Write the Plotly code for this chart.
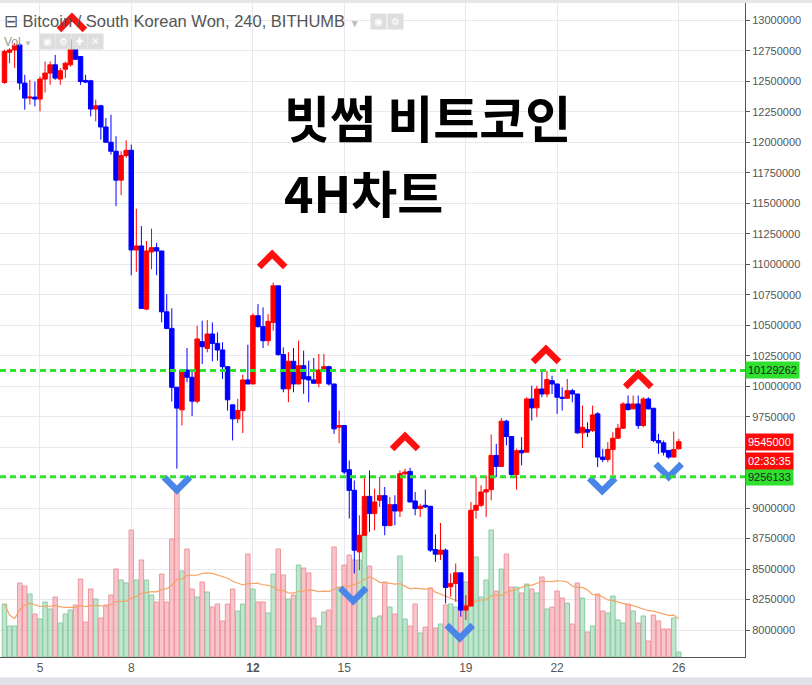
import pandas as pd
import plotly.graph_objects as go

# BTC / KRW, Bithumb, 4h candles (prices in thousand KRW)
bar_start = "2018-03-03 20:00"

opens = [12491, 12739, 12758, 12799, 12486, 12363, 12371, 12355, 12519, 12568,
         12636, 12519, 12600, 12636, 12840, 12704, 12508, 12505, 12273, 12300,
         12126, 12001, 11927, 11690, 11892, 11935, 11117, 11150, 10632, 11101,
         11136, 11109, 10610, 10474, 9991, 9806, 10133, 10073, 9877, 10365,
         10310, 10428, 10351, 10297, 10160, 9847, 9732, 9800, 10051, 10018,
         10578, 10488, 10373, 10523, 10823, 10259, 9978, 10204, 10018, 10168,
         10078, 10051, 10024, 10133, 10160, 10018, 9664, 9677, 9315, 9146,
         8641, 8777, 9096, 8955, 9064, 9102, 8856, 9028, 8976, 9282,
         9301, 9058, 8996, 9023, 9015, 8660, 8622, 8655, 8355, 8382,
         8469, 8163, 8196, 8982, 9023, 9132, 9151, 9432, 9342, 9713,
         9587, 9276, 9473, 9459, 9895, 9822, 9977, 9936, 10045, 10018,
         9909, 9901, 9963, 9936, 9617, 9644, 9636, 9773, 9418, 9399,
         9481, 9573, 9655, 9854, 9814, 9854, 9677, 9895, 9819, 9554,
         9535, 9473, 9418, 9486]
highs = [12760, 12772, 12813, 12813, 12554, 12513, 12499, 12540, 12663, 12663,
         12717, 12609, 12663, 12840, 12868, 12704, 12554, 12513, 12350, 12309,
         12200, 12227, 12050, 11927, 12017, 11982, 11455, 11314, 11191, 11292,
         11177, 11109, 10755, 10638, 9991, 10133, 10313, 10128, 10496, 10537,
         10542, 10523, 10441, 10360, 10160, 9847, 9896, 10095, 10340, 10597,
         10673, 10646, 10591, 10850, 10823, 10318, 10278, 10313, 10373, 10291,
         10209, 10231, 10264, 10264, 10168, 10018, 9800, 9677, 9390, 9227,
         8941, 9255, 9309, 9159, 9255, 9173, 9091, 9105, 9309, 9323,
         9331, 9132, 9036, 9151, 9015, 8785, 8878, 8668, 8464, 8545,
         8469, 8286, 9050, 9255, 9187, 9268, 9604, 9527, 9740, 9724,
         9587, 9487, 9582, 9909, 10004, 10004, 10141, 10127, 10086, 10018,
         9991, 10059, 9977, 9936, 9841, 9704, 9841, 9786, 9486, 9541,
         9623, 9691, 9868, 9923, 9923, 9923, 9909, 9909, 9819, 9609,
         9554, 9473, 9628, 9568]
lows = [12480, 12649, 12609, 12431, 12268, 12309, 12295, 12254, 12409, 12472,
        12513, 12472, 12527, 12622, 12677, 12472, 12486, 12213, 12172, 12022,
        11995, 11900, 11477, 11567, 11873, 10910, 10937, 10638, 10624, 10959,
        10910, 10523, 10468, 9874, 9324, 9677, 10032, 9754, 9860, 10182,
        10278, 10204, 10209, 10059, 9800, 9555, 9697, 9615, 10018, 10018,
        10482, 10313, 10332, 10455, 10250, 9950, 9868, 9950, 10018, 9937,
        9868, 10024, 9991, 10128, 10005, 9609, 9533, 9277, 8914, 8464,
        8491, 8777, 8805, 8818, 9009, 8777, 8856, 8859, 8927, 9268,
        9050, 8941, 8927, 9001, 8641, 8559, 8573, 8218, 8273, 8232,
        8109, 8082, 8196, 8914, 9009, 8927, 9064, 9255, 9337, 9514,
        9255, 9150, 9350, 9459, 9718, 9745, 9909, 9909, 9936, 9773,
        9800, 9895, 9868, 9609, 9492, 9582, 9623, 9336, 9377, 9377,
        9268, 9568, 9650, 9800, 9808, 9650, 9663, 9808, 9541, 9445,
        9432, 9404, 9418, 9481]
closes = [12745, 12758, 12794, 12486, 12363, 12371, 12355, 12519, 12568, 12636,
          12527, 12587, 12649, 12840, 12682, 12499, 12494, 12273, 12300, 12126,
          12001, 11927, 11690, 11892, 11935, 11117, 11150, 10638, 11109, 11136,
          11109, 10610, 10474, 9991, 9820, 10133, 10073, 9877, 10387, 10324,
          10428, 10351, 10297, 10160, 9888, 9732, 9800, 10051, 10018, 10578,
          10488, 10373, 10531, 10823, 10259, 9978, 10204, 10018, 10168, 10059,
          10051, 10024, 10133, 10160, 10018, 9650, 9677, 9296, 9145, 8655,
          8777, 9096, 8955, 9050, 9102, 8856, 9028, 8976, 9282, 9296,
          9050, 8996, 9015, 9009, 8655, 8622, 8655, 8349, 8382, 8469,
          8163, 8196, 8982, 9023, 9132, 9151, 9432, 9342, 9713, 9587,
          9276, 9470, 9453, 9895, 9822, 9977, 9936, 10054, 10018, 9909,
          9901, 9963, 9936, 9617, 9663, 9623, 9764, 9418, 9399, 9481,
          9573, 9655, 9854, 9808, 9854, 9677, 9895, 9814, 9554, 9535,
          9459, 9418, 9481, 9545]
volumes = [53, 31, 31, 74, 71, 63, 43, 38, 55, 48,
           60, 34, 43, 47, 52, 78, 35, 68, 58, 39,
           52, 62, 88, 77, 74, 127, 77, 97, 77, 62,
           55, 83, 55, 118, 170, 86, 108, 68, 60, 75,
           65, 50, 53, 36, 53, 68, 46, 53, 103, 68,
           55, 55, 44, 83, 108, 82, 58, 62, 92, 89,
           84, 39, 31, 45, 47, 110, 70, 92, 102, 97,
           97, 125, 91, 39, 41, 75, 50, 43, 101, 38,
           31, 53, 24, 30, 69, 29, 33, 52, 53, 50,
           62, 75, 112, 100, 60, 77, 127, 66, 88, 103,
           70, 70, 64, 73, 68, 64, 80, 48, 50, 66,
           59, 54, 33, 74, 59, 25, 31, 63, 46, 44,
           61, 37, 34, 53, 46, 34, 41, 16, 42, 36,
           28, 28, 39, 5]

date_ticks = ["2018-03-05", "2018-03-08", "2018-03-12", "2018-03-15",
              "2018-03-19", "2018-03-22", "2018-03-26"]
date_labels = ["5", "8", "<b>12</b>", "15", "19", "22", "26"]
price_ticks = list(range(8000000, 13000001, 250000))

resistance = 10129262
support = 9256133
last_price = 9545000
countdown = "02:33:35"

# hand drawn marks: bar offset from bar_start and price of the tip
top_marks_bar = [13.3, 52.8, 79.0, 106.8, 125.0]
top_marks_price = [13028000, 11084000, 9591000, 10305000, 10100000]
bottom_marks_bar = [34.0, 68.8, 89.8, 117.9, 131.0]
bottom_marks_price = [9148000, 8238000, 7934000, 9140000, 9255000]

t0 = pd.Timestamp(bar_start)
step = pd.Timedelta(hours=4)
times = pd.date_range(bar_start, periods=len(closes), freq="4h")
o = [v * 1000 for v in opens]
h = [v * 1000 for v in highs]
l = [v * 1000 for v in lows]
c = [v * 1000 for v in closes]

up = [cc >= oo for oo, cc in zip(o, c)]
vol_fill = ["rgba(140,210,170,0.55)" if u else "rgba(245,140,150,0.5)" for u in up]
vol_edge = ["#8ccaa3" if u else "#ec97a0" for u in up]
vol_ma = pd.Series(volumes).rolling(20, min_periods=1).mean()

# price labels hidden behind the coloured boxes on the scale
hidden = {9500000, 9250000}
price_labels = ["" if v in hidden else str(v) for v in price_ticks]


def chevrons(bars, prices, direction):
    # direction 1 = "^", -1 = "v"
    xs, ys = [], []
    arm_x = step * 2.56
    arm_y = 106000 * direction
    for b, p in zip(bars, prices):
        t = t0 + step * b
        xs += [t - arm_x, t, t + arm_x, None]
        ys += [p - arm_y, p, p - arm_y, None]
    return xs, ys


fig = go.Figure()
fig.add_trace(go.Bar(x=times, y=volumes, yaxis="y",
                     marker=dict(color=vol_fill, line=dict(color=vol_edge, width=1)),
                     hoverinfo="skip"))
fig.add_trace(go.Scatter(x=times, y=vol_ma, yaxis="y", mode="lines",
                         line=dict(color="#f5a468", width=1.2), hoverinfo="skip"))
fig.add_trace(go.Candlestick(x=times, open=o, high=h, low=l, close=c, yaxis="y2",
                             whiskerwidth=0,
                             increasing=dict(line=dict(color="#ff0000", width=1), fillcolor="#ff0000"),
                             decreasing=dict(line=dict(color="#0000ff", width=1), fillcolor="#0000ff")))

tx, ty = chevrons(top_marks_bar, top_marks_price, 1)
fig.add_trace(go.Scatter(x=tx, y=ty, yaxis="y2", mode="lines",
                         line=dict(color="#ff1010", width=6.5), hoverinfo="skip"))
bx, by = chevrons(bottom_marks_bar, bottom_marks_price, -1)
fig.add_trace(go.Scatter(x=bx, y=by, yaxis="y2", mode="lines",
                         line=dict(color="#4a86e8", width=6.5), hoverinfo="skip"))

green = "#2fe02f"
for lvl in [resistance, support]:
    fig.add_shape(type="line", xref="paper", x0=0, x1=1, yref="y2", y0=lvl, y1=lvl,
                  line=dict(color=green, width=3, dash="6px,4px"), layer="above")

# grey strips at the top and the bottom of the widget
fig.add_shape(type="rect", xref="paper", yref="paper", x0=0, x1=1.1, y0=-0.031, y1=-0.05,
              fillcolor="#e2e3e8", line_width=0)
fig.add_shape(type="rect", xref="paper", yref="paper", x0=0, x1=1.1, y0=1.0, y1=1.006,
              fillcolor="#e6e6e6", line_width=0)

ann = []
box_font = dict(family="Arial, Liberation Sans", size=11)
ann.append(dict(xref="paper", yref="y2", x=1, y=resistance, xanchor="left", yanchor="middle",
                text=f"{resistance}", showarrow=False, bgcolor=green, borderpad=2,
                font=dict(box_font, color="#222")))
ann.append(dict(xref="paper", yref="y2", x=1, y=support, xanchor="left", yanchor="middle",
                text=f"{support}", showarrow=False, bgcolor=green, borderpad=2,
                font=dict(box_font, color="#222")))
ann.append(dict(xref="paper", yref="y2", x=1, y=last_price, xanchor="left", yanchor="middle",
                text=f"{last_price}", showarrow=False, bgcolor="#ff0a0a", borderpad=2,
                font=dict(box_font, color="white")))
ann.append(dict(xref="paper", yref="y2", x=1, y=last_price, xanchor="left", yanchor="middle",
                yshift=-19, text=countdown, showarrow=False, bgcolor="#ff0a0a", borderpad=2,
                font=dict(box_font, color="white")))

ann.append(dict(xref="paper", yref="paper", x=0.003, y=1 - 18 / 654, xanchor="left",
                yanchor="middle", showarrow=False,
                text="⊟ Bitcoin / South Korean Won, 240, BITHUMB <span style='color:#bbb;font-size:10px'>▼</span>",
                font=dict(family="Arial, Liberation Sans", size=16.5, color="#555")))
ann.append(dict(xref="paper", yref="paper", x=0.003, y=1 - 39 / 654, xanchor="left",
                yanchor="middle", showarrow=False,
                text="Vol <span style='color:#bbb;font-size:8px'>▼</span>",
                font=dict(family="Arial, Liberation Sans", size=12, color="#999")))
for i, sym in enumerate(["◉", "⚙", "✚", "✕"]):
    ann.append(dict(xref="paper", yref="paper", x=(47 + 16 * i) / 745, y=1 - 39 / 654,
                    xanchor="center", yanchor="middle", showarrow=False, text=sym,
                    bgcolor="#dedede", width=13, height=13,
                    font=dict(family="DejaVu Sans", size=10, color="white")))
for i, sym in enumerate(["◉", "⚙"]):
    ann.append(dict(xref="paper", yref="paper", x=(379 + 16 * i) / 745, y=1 - 18 / 654,
                    xanchor="center", yanchor="middle", showarrow=False, text=sym,
                    bgcolor="#dedede", width=13, height=13,
                    font=dict(family="DejaVu Sans", size=10, color="white")))

kr_font = dict(family="Noto Sans CJK KR", size=50, color="black", weight="bold")
ann.append(dict(xref="paper", yref="paper", x=282 / 745, y=1 - 113 / 654, xanchor="left",
                yanchor="middle", showarrow=False, text="빗썸 비트코인", font=kr_font))
ann.append(dict(xref="paper", yref="paper", x=282 / 745, y=1 - 188 / 654, xanchor="left",
                yanchor="middle", showarrow=False, text="4H차트", font=kr_font))

x_lo = t0 - step * 0.888
x_hi = t0 + step * 146.06

fig.update_layout(
    width=812, height=685,
    margin=dict(l=0, r=67, t=3, b=28),
    paper_bgcolor="white", plot_bgcolor="white",
    showlegend=False, bargap=0.12, boxgap=0.12, boxgroupgap=0,
    annotations=ann,
    xaxis=dict(type="date", range=[x_lo, x_hi], tickvals=date_ticks, ticktext=date_labels,
               showgrid=True, gridcolor="#e8e9ee", showline=True, linecolor="#555",
               ticks="", tickfont=dict(family="Arial, Liberation Sans", size=12, color="#555"),
               rangeslider=dict(visible=False), fixedrange=True),
    yaxis=dict(range=[0, 654], visible=False, fixedrange=True),
    yaxis2=dict(overlaying="y", side="right", anchor="x",
                range=[7778500, 13143000], tickvals=price_ticks, ticktext=price_labels,
                showgrid=True, gridcolor="#e8e9ee", showline=True, linecolor="#555",
                ticks="outside", ticklen=4, tickcolor="#555",
                tickfont=dict(family="Arial, Liberation Sans", size=11, color="#555"),
                fixedrange=True),
)

# the page's default 8px body margin would push the chart off the window
fig.write_html("out.html", config={"displayModeBar": False},
               post_script="document.body.style.margin = '0';")
